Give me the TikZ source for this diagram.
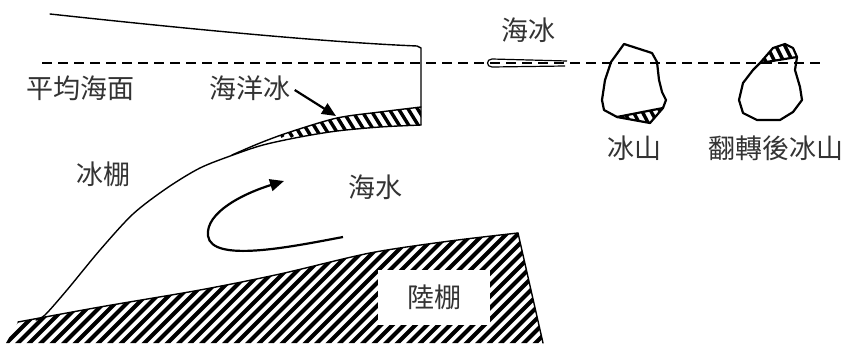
\documentclass[tikz,border=0pt]{standalone}
\usepackage{fontspec}
\setmainfont{Noto Sans CJK TC}
\usetikzlibrary{arrows.meta}
\begin{document}
\begin{tikzpicture}[x=1pt,y=-1pt,
  lbl/.style={font=\fontsize{27}{30}\selectfont, text=black!80, inner sep=0pt},
  outline/.style={line width=1.4pt, line join=round, line cap=round},
  berg/.style={line width=2.2pt, line join=round},
  hatchline/.style={line width=4.2pt},
  pointer/.style={line width=2.2pt, -{Triangle[length=14pt,width=12pt]}},
]
\useasboundingbox (0,0) rectangle (853,343);

% ---------- continental shelf (hatched) ----------
\begin{scope}
  \clip (6,343) -- (18,322)
     -- plot[smooth] coordinates {(18,322) (100,307) (200,290) (280,274) (370,253) (450,241) (518,233)}
     -- (543,343) -- cycle;
  \foreach \k in {0,...,62}
    \draw[hatchline] (\k*11.5-150,350) -- ++(150,-150);
\end{scope}
\node[lbl, fill=white, minimum width=112pt, minimum height=55pt] (shelf) at (434,297) {陸棚};
\coordinate (cs-top) at (518,233);
\coordinate (cs-foot) at (543,343);
\draw[outline] plot[smooth] coordinates {(18,322) (100,307) (200,290) (280,274) (370,253) (450,241) (518,233)};
\draw[outline] (cs-top) -- (cs-foot);

% ---------- marine ice band under the shelf ----------
\begin{scope}
  \clip plot[smooth] coordinates {(232,155) (260,143) (290,132) (337,118) (380,112) (421,107)}
     -- (421,125)
     -- plot[smooth] coordinates {(421,125) (380,127) (337,131) (300,137) (263,145) (232,155)} -- cycle;
  \foreach \k in {0,...,26}
    \draw[line width=3.4pt] (200+\k*9.5,95) -- ++(26,42);
\end{scope}
\draw[outline] plot[smooth] coordinates {(232,155) (260,143) (290,132) (337,118) (380,112) (421,107)};

% ---------- ice shelf ----------
\draw[outline] (50,14) .. controls (170,27) and (320,42) .. (417,46) -- (421,48) -- (421,125);
\draw[outline] plot[smooth] coordinates {(421,125) (380,127) (337,131) (300,137) (263,145) (233,155) (200,168) (167,188) (133,214) (100,250) (67,290) (45,315) (36,320)};

% ---------- sea level ----------
\coordinate (sl-w) at (42,63);
\coordinate (sl-e) at (826,63);
\draw[line width=2pt, dash pattern=on 10pt off 6pt] (sl-w) -- (sl-e);

% ---------- sea ice floe ----------
\draw[line width=1.2pt, line join=round] (567,61) -- (492,59) .. controls (486,59) and (486,67) .. (492,67) -- (565,66);

% ---------- iceberg ----------
\begin{scope}
  \clip (617,117) -- (650,123) -- (663,108) -- cycle;
  \foreach \k in {0,...,8}
    \draw[line width=3.4pt] (600+\k*9,100) -- ++(16,30);
\end{scope}
\draw[berg] (617,117) -- (663,108);
\draw[berg] (624,44) -- (652,53) -- (657,62) -- (659,80) -- (662,92) -- (666,100) -- (663,108)
  -- (650,123) -- (617,117) -- (604,110) -- (602,100) -- (605,80) -- (611,62) -- cycle;

% ---------- overturned iceberg ----------
\begin{scope}
  \clip (760,63) -- (773,48) -- (785,44) -- (793,48) -- (797,57) -- cycle;
  \foreach \k in {0,...,8}
    \draw[line width=3.4pt] (745+\k*9,38) -- ++(14,28);
\end{scope}
\draw[berg] (760,63) -- (797,57);
\draw[berg] (785,44) -- (793,48) -- (797,57) -- (795,70) -- (800,87) -- (802,100) -- (793,112)
  -- (780,120) -- (757,120) -- (743,113) -- (739,100) -- (743,83) -- (753,70) -- (760,63)
  -- (773,48) -- cycle;

% ---------- labels ----------
\node[lbl] (msl) at (80,88) {平均海面};
\node[lbl] (mice) at (250,88) {海洋冰};
\node[lbl] (shelfice) at (103,174) {冰棚};
\node[lbl] (seaice) at (528,30) {海冰};
\node[lbl] (water) at (375,187) {海水};
\node[lbl] (berg1) at (634,148) {冰山};
\node[lbl] (berg2) at (776,148) {翻轉後冰山};

% ---------- arrows ----------
\coordinate (mice-tip) at (336,116);
\draw[pointer] ([xshift=4pt,yshift=-2pt]mice.east) -- (mice-tip);
\coordinate (flow-s) at (343,237);
\coordinate (flow-e) at (284,181);
\draw[pointer] (flow-s) .. controls (290,247) and (212,263) .. (208,236)
  .. controls (205,212) and (245,193) .. (flow-e);
\end{tikzpicture}
\end{document}
